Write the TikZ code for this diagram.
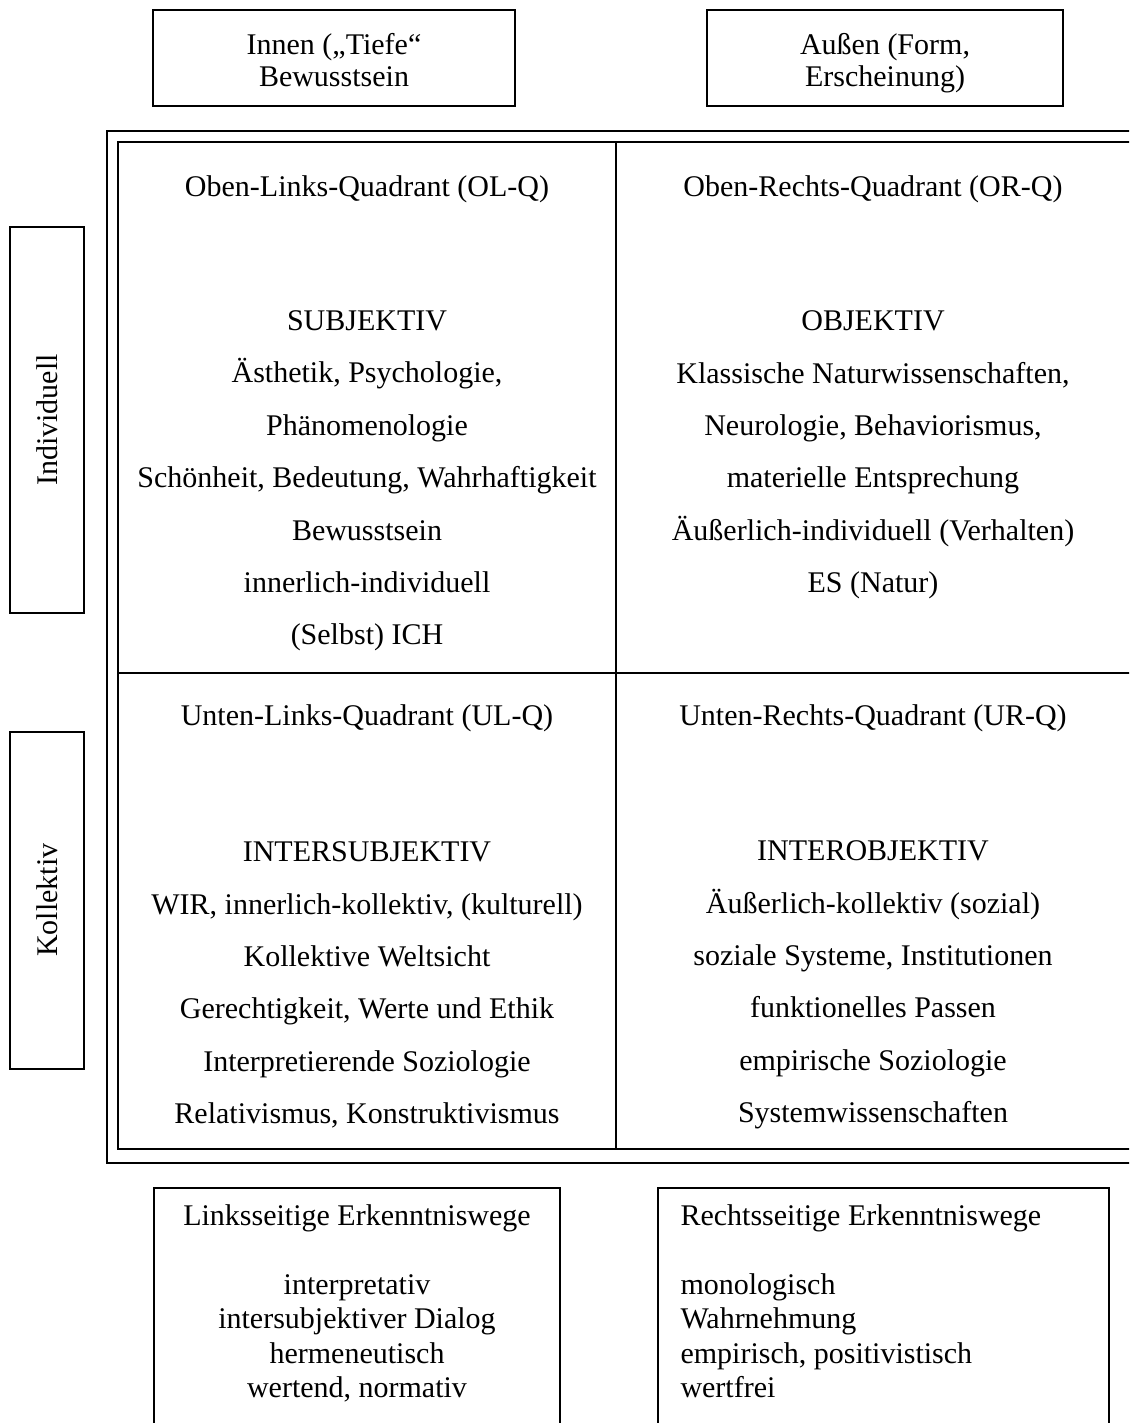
\documentclass[tikz,border=0pt]{standalone}
\usepackage{fontspec}
\setmainfont{Liberation Serif}
\usetikzlibrary{positioning}
\newcommand{\oben}{\rule{0pt}{13.2pt}}
\newcommand{\unten}{\rule[-3pt]{0pt}{0pt}}

\begin{document}
\begin{tikzpicture}[x=0.4pt,y=-0.4pt,
  kasten/.style={draw,line width=0.8pt,inner sep=0pt,align=center,font=\fontsize{12}{12.8}\selectfont},
  seite/.style={draw,line width=0.8pt,inner sep=0pt,rotate=90,minimum height=29.2pt,font=\fontsize{12}{14}\selectfont},
  kopf/.style={inner sep=0pt,font=\fontsize{12}{14}\selectfont},
  inhalt/.style={inner sep=0pt,align=center,font=\fontsize{12}{20.96}\selectfont},
  weg/.style={inner sep=0pt,font=\fontsize{12}{13.8}\selectfont},
  linie/.style={line width=0.8pt}]
\useasboundingbox (0,0) rectangle (1129,1423);
\clip (0,0) rectangle (1129,1423);
% Kopfzeile
\node[kasten,minimum width=144.8pt,minimum height=38.4pt] (innen) at (334,58) {\oben Innen („Tiefe“\\Bewusstsein\unten};
\node[kasten,minimum width=142.4pt,minimum height=38.4pt] (aussen) at (885,58) {\oben Außen (Form,\\Erscheinung)\unten};
% Seitenleiste
\node[seite,minimum width=154.4pt] (indiv) at (47,420) {Individuell};
\node[seite,minimum width=134.8pt] (kollektiv) at (47,900) {Kollektiv};
% Quadranten
\draw[linie] (107,131) rectangle (1145,1163);
\draw[linie] (118,142) rectangle (1145,1149);
\draw[linie] (616,142) -- (616,1149);
\draw[linie] (118,673) -- (1145,673);
\node[kopf] (olkopf) at (367,189) {Oben-Links-Quadrant (OL-Q)};
\node[kopf] (orkopf) at (873,189) {Oben-Rechts-Quadrant (OR-Q)};
\node[kopf] (ulkopf) at (367,718) {Unten-Links-Quadrant (UL-Q)};
\node[kopf] (urkopf) at (873,718) {Unten-Rechts-Quadrant (UR-Q)};
\node[inhalt] (olinhalt) at (367,481) {SUBJEKTIV\\Ästhetik, Psychologie,\\Phänomenologie\\Schönheit, Bedeutung, Wahrhaftigkeit\\Bewusstsein\\innerlich-individuell\\(Selbst) ICH};
\node[inhalt] (orinhalt) at (873,455) {OBJEKTIV\\Klassische Naturwissenschaften,\\Neurologie, Behaviorismus,\\materielle Entsprechung\\Äußerlich-individuell (Verhalten)\\ES (Natur)};
\node[inhalt] (ulinhalt) at (367,985) {INTERSUBJEKTIV\\WIR, innerlich-kollektiv, (kulturell)\\Kollektive Weltsicht\\Gerechtigkeit, Werte und Ethik\\Interpretierende Soziologie\\Relativismus, Konstruktivismus};
\node[inhalt] (urinhalt) at (873,985) {INTEROBJEKTIV\\Äußerlich-kollektiv (sozial)\\soziale Systeme, Institutionen\\funktionelles Passen\\empirische Soziologie\\Systemwissenschaften};
% Erkenntniswege
\node[kasten,minimum width=162.4pt,minimum height=120pt,anchor=north] (links) at (357,1187) {};
\node[kasten,minimum width=180.4pt,minimum height=120pt,anchor=north] (rechts) at (883.5,1187) {};
\node[weg,align=center,below=6.8pt of links.north] (linkstext) {Linksseitige Erkenntniswege\\[13.8pt]interpretativ\\intersubjektiver Dialog\\hermeneutisch\\wertend, normativ};
\node[weg,align=left,anchor=north west] (rechtstext) at (680,1204) {Rechtsseitige Erkenntniswege\\[13.8pt]monologisch\\Wahrnehmung\\empirisch, positivistisch\\wertfrei};
\end{tikzpicture}
\end{document}
